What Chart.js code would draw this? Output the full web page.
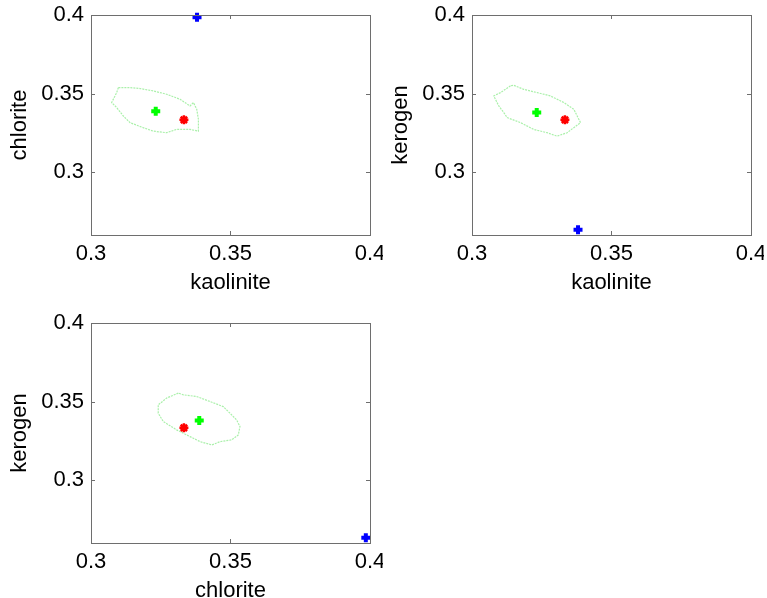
<!DOCTYPE html>
<html>
<head>
<meta charset="utf-8">
<script src="https://cdn.jsdelivr.net/npm/chart.js@4/dist/chart.umd.min.js"></script>
<style>
  html, body { margin: 0; padding: 0; background: #fff; overflow: hidden; }
  #page { position: relative; width: 767px; height: 598px; }
  canvas { position: absolute; }
</style>
</head>
<body>
<div id="page">
  <canvas id="panel-0" width="383" height="300" style="left:0px;top:0px"></canvas>
  <canvas id="panel-1" width="383" height="300" style="left:381px;top:0px"></canvas>
  <canvas id="panel-2" width="383" height="300" style="left:0px;top:308px"></canvas>
</div>
<script>
// axis ticks and ranges
const xTicks = [0.3, 0.35, 0.4];
const yTicks = [0.3, 0.35, 0.4];
const xRange = [0.3, 0.4];
const yRange = [0.26, 0.4];

// minerals and the three marker values for each
const minerals = ['kaolinite', 'chlorite', 'kerogen'];
const trueVals = [0.3333, 0.3333, 0.3333];
const estVals = [0.3232, 0.3388, 0.3379];
const startVals = [0.338, 0.3985, 0.2634];

// which mineral goes on x / y in each panel
const panelX = [0, 0, 1];
const panelY = [1, 2, 2];

// contour outlines, one pair per panel
const contourX0 = [0.3098, 0.3092, 0.3074, 0.3092, 0.3116, 0.3140, 0.3187, 0.3223, 0.3271, 0.3307, 0.3355, 0.3385, 0.3385, 0.3379, 0.3367, 0.3355, 0.3319, 0.3271, 0.3223, 0.3176, 0.3140, 0.3098];
const contourY0 = [0.3538, 0.3506, 0.3443, 0.3411, 0.3357, 0.3315, 0.3283, 0.3261, 0.3251, 0.3272, 0.3272, 0.3261, 0.3336, 0.3400, 0.3443, 0.3421, 0.3464, 0.3496, 0.3517, 0.3532, 0.3538, 0.3538];
const contourX1 = [0.3138, 0.3102, 0.3078, 0.3096, 0.3114, 0.3126, 0.3174, 0.3221, 0.3269, 0.3305, 0.3341, 0.3365, 0.3389, 0.3377, 0.3365, 0.3329, 0.3281, 0.3234, 0.3185, 0.3149, 0.3138];
const contourY1 = [0.3549, 0.3506, 0.3485, 0.3421, 0.3379, 0.3347, 0.3315, 0.3272, 0.3251, 0.3229, 0.3251, 0.3283, 0.3315, 0.3357, 0.3400, 0.3443, 0.3485, 0.3506, 0.3527, 0.3553, 0.3549];
const contourX2 = [0.3313, 0.3271, 0.3241, 0.3241, 0.3259, 0.3307, 0.3355, 0.3391, 0.3433, 0.3462, 0.3504, 0.3528, 0.3534, 0.3522, 0.3498, 0.3474, 0.3427, 0.3379, 0.3331, 0.3313];
const contourY2 = [0.3554, 0.3522, 0.3479, 0.3426, 0.3373, 0.3320, 0.3277, 0.3245, 0.3224, 0.3245, 0.3256, 0.3288, 0.3341, 0.3383, 0.3426, 0.3468, 0.3500, 0.3532, 0.3543, 0.3554];

const contoursX = [contourX0, contourX1, contourX2];
const contoursY = [contourY0, contourY1, contourY2];

const fontFamily = "'Liberation Sans', Arial, Helvetica, sans-serif";

// matlab style box with inward ticks on all sides
const boxPlugin = {
    id: 'box',
    afterDatasetsDraw(chart) {
        const { ctx, chartArea: a, scales } = chart;
        const len = 4;
        ctx.save();
        ctx.strokeStyle = '#6e6e6e';
        ctx.lineWidth = 1;
        ctx.beginPath();
        xTicks.forEach(v => {
            const px = Math.round(scales.x.getPixelForValue(v)) + 0.5;
            ctx.moveTo(px, a.bottom); ctx.lineTo(px, a.bottom - len);
            ctx.moveTo(px, a.top); ctx.lineTo(px, a.top + len);
        });
        yTicks.forEach(v => {
            const py = Math.round(scales.y.getPixelForValue(v)) + 0.5;
            ctx.moveTo(a.left, py); ctx.lineTo(a.left + len, py);
            ctx.moveTo(a.right, py); ctx.lineTo(a.right - len, py);
        });
        ctx.stroke();
        ctx.strokeRect(Math.round(a.left) + 0.5, Math.round(a.top) + 0.5,
            Math.round(a.right - a.left), Math.round(a.bottom - a.top));
        ctx.restore();
    }
};

const makePanel = (i) => {
    const xi = panelX[i];
    const yi = panelY[i];
    const contour = contoursX[i].map((x, k) => ({ x, y: contoursY[i][k] }));

    const marker = (vals, color, style, width) => ({
        data: [{ x: vals[xi], y: vals[yi] }],
        pointStyle: style,
        pointRadius: 4.5,
        pointBorderWidth: width,
        pointBorderColor: color,
        pointBackgroundColor: color,
        showLine: false,
        clip: false
    });

    new Chart(document.getElementById('panel-' + i), {
        type: 'scatter',
        data: {
            datasets: [
                marker(startVals, '#0000ff', 'cross', 4),
                marker(estVals, '#00ff00', 'cross', 4),
                marker(trueVals, '#ff0000', 'star', 2.5),
                {
                    data: contour,
                    showLine: true,
                    pointRadius: 0,
                    borderColor: 'rgb(170,240,170)',
                    borderWidth: 1.2,
                    borderDash: [2, 1]
                }
            ]
        },
        options: {
            responsive: false,
            animation: false,
            events: [],
            layout: { padding: { top: 15, right: 13, left: 0, bottom: 0 } },
            plugins: { legend: { display: false }, tooltip: { enabled: false } },
            scales: {
                x: {
                    type: 'linear',
                    min: xRange[0],
                    max: xRange[1],
                    grid: { display: false, drawTicks: false },
                    border: { display: false },
                    afterBuildTicks: (scale) => { scale.ticks = xTicks.map(v => ({ value: v })); },
                    afterFit: (scale) => {
                        scale.height = 65;
                        scale.paddingLeft = 0;
                        scale.paddingRight = 0;
                    },
                    ticks: {
                        padding: 6,
                        color: '#000',
                        font: { family: fontFamily, size: 22 },
                        maxRotation: 0,
                        callback: (v) => String(v)
                    },
                    title: {
                        display: true,
                        text: minerals[xi],
                        color: '#000',
                        font: { family: fontFamily, size: 22 },
                        padding: { top: 0, bottom: 4 }
                    }
                },
                y: {
                    type: 'linear',
                    min: yRange[0],
                    max: yRange[1],
                    grid: { display: false, drawTicks: false },
                    border: { display: false },
                    afterBuildTicks: (scale) => { scale.ticks = yTicks.map(v => ({ value: v })); },
                    afterFit: (scale) => {
                        scale.width = 91;
                        scale.paddingTop = 0;
                        scale.paddingBottom = 0;
                    },
                    ticks: {
                        padding: 7,
                        color: '#000',
                        font: { family: fontFamily, size: 22 },
                        callback: (v) => String(v)
                    },
                    title: {
                        display: true,
                        text: minerals[yi],
                        color: '#000',
                        font: { family: fontFamily, size: 22 },
                        padding: { top: 7, bottom: 0 }
                    }
                }
            }
        },
        plugins: [boxPlugin]
    });
};

[0, 1, 2].forEach(makePanel);
</script>
</body>
</html>
